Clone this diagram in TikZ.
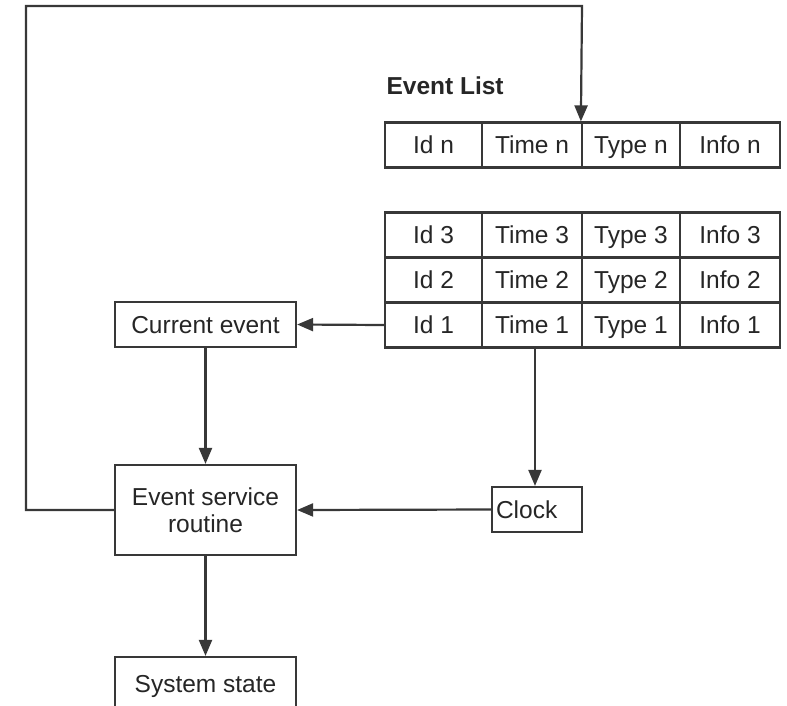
\documentclass[tikz,border=0pt]{standalone}
\usepackage{fontspec}
\setmainfont{Liberation Sans}
\usetikzlibrary{arrows.meta}
\begin{document}
\begin{tikzpicture}[x=1pt,y=-1pt,
  ln/.style={draw=black!78,line width=2.2pt},
  arr/.style={ln,-{Triangle[length=16pt,width=13pt]}},
  box/.style={ln,rectangle,inner sep=0pt,align=center,text=black!85,font=\fontsize{24.5}{28}\selectfont},
  cell/.style={box,minimum height=45pt,text height=17.5pt,text depth=0pt},
  cellA/.style={cell,minimum width=97pt},
  cellB/.style={cell,minimum width=100pt},
  cellC/.style={cell,minimum width=98pt},
]
\useasboundingbox (0,0) rectangle (787,705);
\clip (0,0) rectangle (787,705);
\fill[white] (0,0) rectangle (787,705);

\node[anchor=west,font=\bfseries\fontsize{24.5}{28}\selectfont,text=black!85] (title) at (383,86) {Event List};

% top row (n)
\node[cellA] (idn)   at (433.5,145) {Id n};
\node[cellB] (timen) at (532,145) {Time n};
\node[cellC] (typen) at (631,145) {Type n};
\node[cellB] (infon) at (730,145) {Info n};

% rows 3,2,1
\node[cellA] (id3)   at (433.5,235) {Id 3};
\node[cellB] (time3) at (532,235) {Time 3};
\node[cellC] (type3) at (631,235) {Type 3};
\node[cellB] (info3) at (730,235) {Info 3};

\node[cellA] (id2)   at (433.5,280) {Id 2};
\node[cellB] (time2) at (532,280) {Time 2};
\node[cellC] (type2) at (631,280) {Type 2};
\node[cellB] (info2) at (730,280) {Info 2};

\node[cellA] (id1)   at (433.5,325) {Id 1};
\node[cellB] (time1) at (532,325) {Time 1};
\node[cellC] (type1) at (631,325) {Type 1};
\node[cellB] (info1) at (730,325) {Info 1};

% boxes
\node[box,minimum width=181pt,minimum height=45pt,text height=17.5pt,text depth=0pt] (cur) at (205.5,324.5) {Current event};
\node[box,minimum width=181pt,minimum height=90pt] (esr) at (205.5,510) {Event service\\[-1pt]routine};
\node[box,minimum width=90pt,minimum height=45pt,text width=82pt,align=left,text height=17.5pt,text depth=0pt] (clock) at (537,509.5) {Clock};
\node[box,minimum width=181pt,minimum height=54pt,text height=17.5pt,text depth=0pt] (sys) at (205.5,684) {System state};

% connectors
\coordinate (c1) at (26,510);
\coordinate (c2) at (26,6);
\coordinate (c3) at (582,6);
\draw[arr] (esr.west) -- (c1) -- (c2) -- (c3) -- (typen.north west);
\draw[arr] (id1.west) -- (cur.east);
\draw[arr] (cur.south) -- (esr.north);
\draw[arr] (esr.south) -- (sys.north);
\coordinate (t1) at ([xshift=3pt]time1.south);
\draw[arr] (t1) -- (t1 |- clock.north);
\draw[arr] (clock.west) -- (esr.east);
\end{tikzpicture}
\end{document}
